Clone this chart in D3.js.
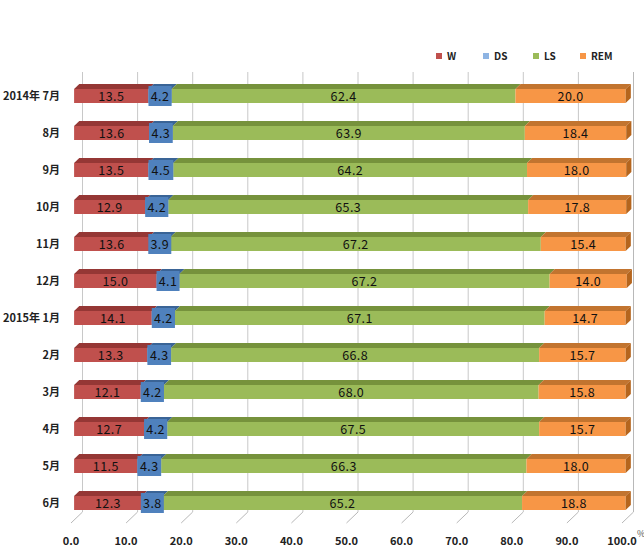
<!DOCTYPE html>
<html>
<head>
<meta charset="utf-8">
<script src="https://cdn.jsdelivr.net/npm/d3@7"></script>
<style>
  body { margin: 0; background: #fff; }
  text { font-family: "Noto Sans CJK JP", "DejaVu Sans", sans-serif; }
</style>
</head>
<body>
<script>
// data
var months = ["2014年 7月", "8月", "9月", "10月", "11月", "12月", "2015年 1月", "2月", "3月", "4月", "5月", "6月"];
var seriesNames = ["W", "DS", "LS", "REM"];
var wVals   = [13.5, 13.6, 13.5, 12.9, 13.6, 15.0, 14.1, 13.3, 12.1, 12.7, 11.5, 12.3];
var dsVals  = [4.2, 4.3, 4.5, 4.2, 3.9, 4.1, 4.2, 4.3, 4.2, 4.2, 4.3, 3.8];
var lsVals  = [62.4, 63.9, 64.2, 65.3, 67.2, 67.2, 67.1, 66.8, 68.0, 67.5, 66.3, 65.2];
var remVals = [20.0, 18.4, 18.0, 17.8, 15.4, 14.0, 14.7, 15.7, 15.8, 15.7, 18.0, 18.8];
var ticks = [0, 10, 20, 30, 40, 50, 60, 70, 80, 90, 100];

var width = 644, height = 552;

// colours: front face, top face, side face
var colors = {
  W:   {front: "#c0504d", top: "#953735", side: "#8b3432", legend: "#c0504d"},
  DS:  {front: "#4f81bd", top: "#3a6496", side: "#34598a", legend: "#8eb4e3"},
  LS:  {front: "#9bbb59", top: "#76923c", side: "#6e8a37", legend: "#9bbb59"},
  REM: {front: "#f79646", top: "#c2742f", side: "#b5651d", legend: "#f79646"}
};

var svg = d3.select("body").append("svg")
  .attr("width", width)
  .attr("height", height);

// front plane of the floor, 3D depth goes up/right
var x = d3.scaleLinear().domain([0, 100]).range([71, 622]);
var y = d3.scalePoint().domain(months).range([96, 503]);

var depthX = 11.5, depthY = 11;
var floorFront = 523, floorBack = floorFront - depthY, wallTop = 72;
var barFrontT = 0.27, barBackT = 0.72;
var barH = 14;

// back wall grid lines and floor lines
var grid = svg.append("g").attr("class", "grid");
ticks.forEach(function(t) {
  var xb = x(t) + depthX;
  grid.append("line")
    .attr("x1", xb).attr("x2", xb)
    .attr("y1", wallTop).attr("y2", floorBack)
    .attr("stroke", t == 100 ? "#b8b8b8" : "#c8c8c8")
    .attr("stroke-width", 1);
  grid.append("line")
    .attr("x1", xb).attr("y1", floorBack)
    .attr("x2", x(t)).attr("y2", floorFront)
    .attr("stroke", "#b8b8b8")
    .attr("stroke-width", 1);
});

// axis labels
svg.append("g").selectAll("text")
  .data(ticks)
  .enter()
  .append("text")
  .attr("x", function(d) { return x(d); })
  .attr("y", 545)
  .attr("text-anchor", "middle")
  .style("font-size", "11px")
  .style("font-weight", "bold")
  .attr("fill", "#222")
  .text(function(d) { return d3.format(".1f")(d); });

svg.append("text")
  .attr("x", 637).attr("y", 537)
  .style("font-size", "9px")
  .attr("fill", "#555")
  .text("%");

// category labels
svg.append("g").selectAll("text")
  .data(months)
  .enter()
  .append("text")
  .attr("x", 60)
  .attr("y", function(d) { return y(d) + 4; })
  .attr("text-anchor", "end")
  .style("font-size", "11px")
  .style("font-weight", "bold")
  .attr("fill", "#222")
  .text(function(d) { return d; });

// stacked rows
var rows = months.map(function(m, i) {
  var vals = [wVals[i], dsVals[i], lsVals[i], remVals[i]];
  var acc = 0;
  return vals.map(function(v, j) {
    var seg = {month: m, name: seriesNames[j], value: v, x0: acc, x1: acc + v};
    acc += v;
    return seg;
  });
});

var fx = depthX * barFrontT, fy = depthY * barFrontT;
var bx = depthX * (barBackT - barFrontT), by = depthY * (barBackT - barFrontT);

var bars = svg.append("g").attr("class", "bars");
rows.forEach(function(row) {
  var yc = y(row[0].month);
  var top = yc - barH / 2, bottom = yc + barH / 2;
  row.forEach(function(s, j) {
    var xa = x(s.x0) + fx, xb = x(s.x1) + fx;
    var c = colors[s.name];
    // top face
    bars.append("path")
      .attr("d", "M" + xa + "," + top + "L" + xb + "," + top +
                 "L" + (xb + bx) + "," + (top - by) + "L" + (xa + bx) + "," + (top - by) + "Z")
      .attr("fill", c.top);
    // front face
    bars.append("rect")
      .attr("x", xa).attr("y", top)
      .attr("width", xb - xa).attr("height", barH)
      .attr("fill", c.front);
    // right side face on the last segment
    if (j == row.length - 1) {
      bars.append("path")
        .attr("d", "M" + xb + "," + top + "L" + (xb + bx) + "," + (top - by) +
                   "L" + (xb + bx) + "," + (bottom - by) + "L" + xb + "," + bottom + "Z")
        .attr("fill", c.side);
    }
  });
  // data labels
  row.forEach(function(s) {
    var xm = (x(s.x0) + x(s.x1)) / 2 + fx;
    var label = d3.format(".1f")(s.value);
    if (s.name == "DS") {
      var w = Math.max(x(s.x1) - x(s.x0), 23);
      bars.append("rect")
        .attr("x", xm - w / 2).attr("y", yc - 10)
        .attr("width", w).attr("height", 20)
        .attr("fill", colors.DS.front);
    }
    bars.append("text")
      .attr("x", xm)
      .attr("y", yc + 4.5)
      .attr("text-anchor", "middle")
      .style("font-size", "12.5px")
      .style("letter-spacing", "0.4px")
      .attr("fill", "#111")
      .text(label);
  });
});

// legend
var legendX = [436, 483, 533, 580];
var legend = svg.append("g").attr("class", "legend");
seriesNames.forEach(function(n, i) {
  legend.append("rect")
    .attr("x", legendX[i]).attr("y", 53)
    .attr("width", 6).attr("height", 6)
    .attr("fill", colors[n].legend);
  legend.append("text")
    .attr("x", legendX[i] + 11).attr("y", 60)
    .style("font-size", "10px")
    .style("font-weight", "bold")
    .attr("fill", "#222")
    .text(n);
});
</script>
</body>
</html>
